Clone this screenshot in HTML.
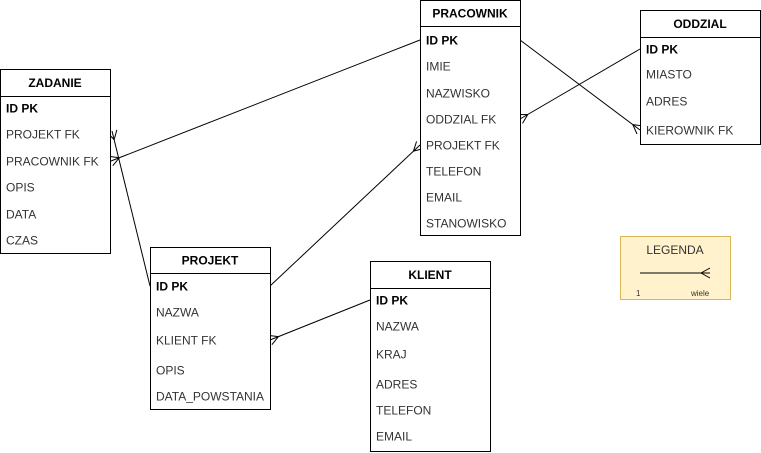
<!DOCTYPE html>
<html><head><meta charset="utf-8"><style>
body{margin:0;width:761px;height:453px;background:#fff;overflow:hidden;font-family:"Liberation Sans",Arial,sans-serif;}
svg{position:absolute;left:0;top:0}
</style></head><body>
<svg id="s" width="761" height="453" xmlns="http://www.w3.org/2000/svg" font-family="Liberation Sans, Arial, sans-serif" font-size="12"></svg>
<script>
const s=document.getElementById('s');let h='';
function ent(x,y,w,hh,title,hdr,rows){
 h+=`<rect x="${x+.5}" y="${y+.5}" width="${w}" height="${hh}" fill="#fff" stroke="#000"/>`;
 h+=`<line x1="${x}" y1="${y+hdr+.5}" x2="${x+w}" y2="${y+hdr+.5}" stroke="#000"/>`;
 h+=`<text x="${x+w/2}" y="${y+hdr/2+4.5}" text-anchor="middle" font-weight="bold" fill="#000">${title}</text>`;
 rows.forEach((r,i)=>{h+=`<text x="${x+6}" y="${r[1]+4.5}" fill="${i==0?'#000':'#333'}" ${i==0?'font-weight="bold"':''}>${r[0]}</text>`});
}
function rel(x1,y1,x2,y2){
 h+=`<line x1="${x1}" y1="${y1}" x2="${x2}" y2="${y2}" stroke="#000"/>`;
 const dx=x2-x1,dy=y2-y1,L=Math.hypot(dx,dy),ux=dx/L,uy=dy/L,px=-uy,py=ux;
 const bx=x2-ux*9,by=y2-uy*9;
 [-5,5].forEach(k=>{h+=`<line x1="${bx}" y1="${by}" x2="${x2+px*k}" y2="${y2+py*k}" stroke="#000"/>`});
}
rel(420,40,111,161);
rel(150,286,112,131);
rel(270,286,420,145);
rel(370,300,270,340);
rel(640,49,520,119);
rel(520,40,640,130);
ent(0,69,110,184,'ZADANIE',27,[['ID PK',108],['PROJEKT FK',134],['PRACOWNIK FK',161],['OPIS',187],['DATA',214],['CZAS',240]]);
ent(420,0,100,235,'PRACOWNIK',26,[['ID PK',40],['IMIE',66],['NAZWISKO',93],['ODDZIAL FK',119],['PROJEKT FK',145],['TELEFON',171],['EMAIL',197],['STANOWISKO',223]]);
ent(640,10,120,134,'ODDZIAL',27,[['ID PK',49],['MIASTO',74],['ADRES',101],['KIEROWNIK FK',130]]);
ent(150,247,120,162,'PROJEKT',26,[['ID PK',286],['NAZWA',312],['KLIENT FK',340],['OPIS',370],['DATA_POWSTANIA',396]]);
ent(370,261,120,190,'KLIENT',27,[['ID PK',300],['NAZWA',326],['KRAJ',354],['ADRES',384],['TELEFON',410],['EMAIL',436]]);
h+=`<rect x="620.5" y="236.5" width="110" height="63" fill="#fff2cc" stroke="#d6b656"/>`;
h+=`<text x="675" y="254" text-anchor="middle" fill="#333">LEGENDA</text>`;
h+=`<line x1="640" y1="273" x2="710" y2="273" stroke="#000"/>`;
h+=`<line x1="701" y1="273" x2="710" y2="268" stroke="#000"/><line x1="701" y1="273" x2="710" y2="278" stroke="#000"/>`;
h+=`<text x="636" y="296" font-size="8" fill="#333">1</text><text x="691" y="296" font-size="8" fill="#333">wiele</text>`;
s.innerHTML=h;
</script>
</body></html>
